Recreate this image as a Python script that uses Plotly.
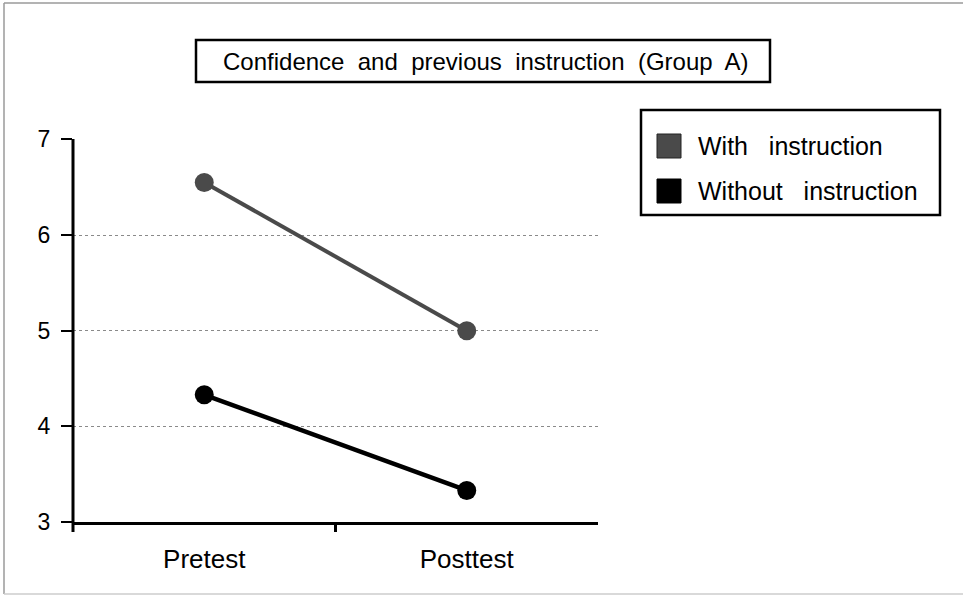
import plotly.graph_objects as go

# Data
phases = ["Pretest", "Posttest"]
with_instruction = [6.55, 5.0]
without_instruction = [4.33, 3.33]
y_ticks = [3, 4, 5, 6, 7]

W, H = 963, 597
L, R, T, B = 73, 598, 139, 522

FONT = "Liberation Sans, Arial, Helvetica, sans-serif"
GREY = "#4a4a4a"


def fx(px):
    """pixel x -> paper x"""
    return (px - L) / (R - L)


def fy(px):
    """pixel y -> paper y"""
    return (B - px) / (B - T)


fig = go.Figure()
fig.add_trace(go.Scatter(
    x=phases, y=with_instruction, mode="lines+markers", name="With instruction",
    line=dict(color=GREY, width=4),
    marker=dict(size=19, color=GREY),
    showlegend=False,
))
fig.add_trace(go.Scatter(
    x=phases, y=without_instruction, mode="lines+markers", name="Without instruction",
    line=dict(color="black", width=4.5),
    marker=dict(size=19, color="black"),
    showlegend=False,
))

frame = dict(color="#9a9a9a", width=1.5)
shapes = [
    # outer frame (top, left, bottom)
    dict(type="line", xref="paper", yref="paper", x0=fx(4), x1=fx(963),
         y0=fy(3), y1=fy(3), line=frame, layer="below"),
    dict(type="line", xref="paper", yref="paper", x0=fx(4), x1=fx(4),
         y0=fy(3), y1=fy(594), line=frame, layer="below"),
    dict(type="line", xref="paper", yref="paper", x0=fx(4), x1=fx(963),
         y0=fy(594), y1=fy(594), line=dict(color="#cccccc", width=1.5), layer="below"),
    # title box
    dict(type="rect", xref="paper", yref="paper",
         x0=fx(196), x1=fx(770), y0=fy(82), y1=fy(40),
         line=dict(color="black", width=2.5)),
    # legend box
    dict(type="rect", xref="paper", yref="paper",
         x0=fx(641), x1=fx(940), y0=fy(215), y1=fy(110),
         line=dict(color="black", width=2.5)),
    # legend swatches
    dict(type="rect", xref="paper", yref="paper",
         x0=fx(657), x1=fx(681), y0=fy(158), y1=fy(134),
         fillcolor=GREY, line=dict(color="#222", width=1)),
    dict(type="rect", xref="paper", yref="paper",
         x0=fx(657), x1=fx(681), y0=fy(203), y1=fy(179),
         fillcolor="black", line=dict(color="black", width=1)),
    # y axis line extending slightly below the x axis
    dict(type="line", xref="paper", yref="paper",
         x0=0, x1=0, y0=fy(532), y1=1,
         line=dict(color="black", width=3)),
    # tick between the two categories
    dict(type="line", xref="x", yref="paper",
         x0=0.5, x1=0.5, y0=0, y1=fy(532),
         line=dict(color="black", width=3)),
]

annotations = [
    dict(text="Confidence  and  previous  instruction  (Group  A)",
         xref="paper", yref="paper", x=fx(486), y=fy(61),
         xanchor="center", yanchor="middle",
         showarrow=False, font=dict(family=FONT, size=24, color="black")),
    dict(text="With   instruction", xref="paper", yref="paper",
         x=fx(696), y=fy(146), xanchor="left", yanchor="middle",
         showarrow=False, font=dict(family=FONT, size=25, color="black")),
    dict(text="Without   instruction", xref="paper", yref="paper",
         x=fx(696), y=fy(191), xanchor="left", yanchor="middle",
         showarrow=False, font=dict(family=FONT, size=25, color="black")),
]

fig.update_layout(
    width=W, height=H,
    margin=dict(l=L, r=W - R, t=T, b=H - B, pad=0),
    paper_bgcolor="white", plot_bgcolor="white",
    font=dict(family=FONT, size=22, color="black"),
    shapes=shapes, annotations=annotations,
    xaxis=dict(
        type="category", range=[-0.5, 1.5],
        showgrid=False, zeroline=False,
        showline=True, linecolor="black", linewidth=3,
        ticks="", tickfont=dict(size=26), ticklabelstandoff=12,
    ),
    yaxis=dict(
        range=[3, 7.004], tickvals=y_ticks,
        showgrid=True, gridcolor="#8a8a8a", griddash="dot", gridwidth=1.2,
        zeroline=False, showline=False,
        ticks="outside", ticklen=11, tickwidth=1.5, tickcolor="black",
        tickfont=dict(size=23), ticklabelstandoff=6,
    ),
)

fig.write_html("out.html")
